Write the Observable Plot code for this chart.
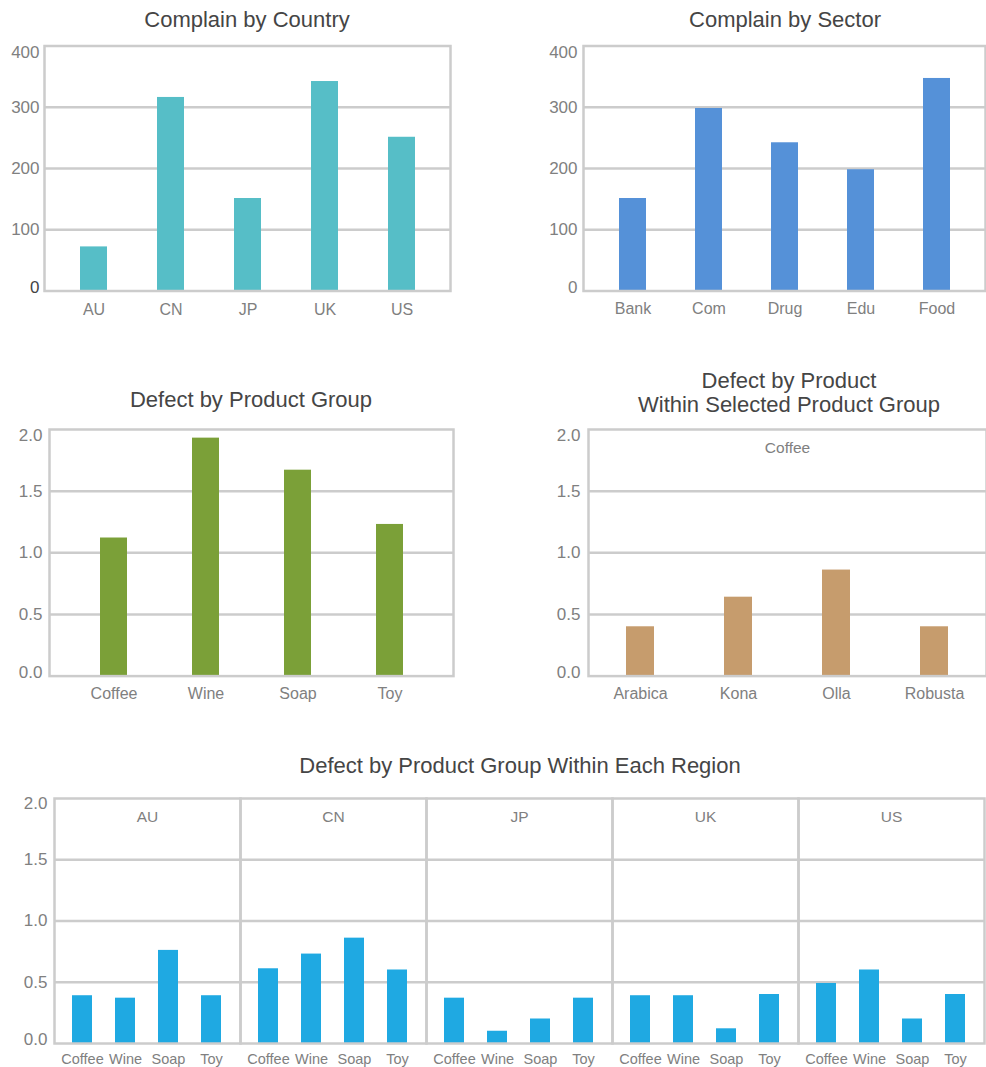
<!DOCTYPE html>
<html><head><meta charset="utf-8">
<script src="https://cdn.jsdelivr.net/npm/d3@7"></script>
<script src="https://cdn.jsdelivr.net/npm/@observablehq/plot@0.6"></script>
<style>
html,body{margin:0;padding:0;background:#fff}
body{width:986px;height:1067px;position:relative;overflow:hidden;font-family:"Liberation Sans",Arial,sans-serif}
.title{position:absolute;color:#454545;font-size:22px;text-align:center;white-space:nowrap;transform:translateX(-50%);line-height:24px}
.panel{position:absolute}
.panel svg{overflow:visible}
</style></head><body>
<script>
// ---- data ----
const countries = ["AU","CN","JP","UK","US"];
const countryComplaints = [72, 316, 151, 342, 251];
const sectors = ["Bank","Com","Drug","Edu","Food"];
const sectorComplaints = [151, 298, 242, 198, 347];
const complainTicks = [0, 100, 200, 300, 400];
const productGroups = ["Coffee","Wine","Soap","Toy"];
const groupDefects = [1.12, 1.93, 1.67, 1.23];
const selectedGroup = "Coffee";
const coffeeProducts = ["Arabica","Kona","Olla","Robusta"];
const coffeeDefects = [0.40, 0.64, 0.86, 0.40];
const defectTicks = [0, 0.5, 1.0, 1.5, 2.0];
const regions = ["AU","CN","JP","UK","US"];
const auDefects = [0.39, 0.37, 0.76, 0.39];
const cnDefects = [0.61, 0.73, 0.86, 0.60];
const jpDefects = [0.37, 0.10, 0.20, 0.37];
const ukDefects = [0.39, 0.39, 0.12, 0.40];
const usDefects = [0.49, 0.60, 0.20, 0.40];

const FONT = '"Liberation Sans", Arial, sans-serif';
const GRID = "#cccccc";
const TICK = "#808080";

function addTitle(lines, cx, cy) {
  const d = document.createElement("div");
  d.className = "title";
  d.innerHTML = lines.join("<br>");
  d.style.left = cx + "px";
  d.style.top = (cy - 12 * lines.length) + "px";
  document.body.appendChild(d);
}
function addPanel(svg, left, top) {
  const d = document.createElement("div");
  d.className = "panel";
  d.style.left = left + "px";
  d.style.top = top + "px";
  d.appendChild(svg);
  document.body.appendChild(d);
}

function yLabels(ticks, fmt, dx, topDy, botDy, botFill, extra = {}) {
  const mid = ticks.slice(1, -1), top = ticks.slice(-1), bot = ticks.slice(0, 1);
  const base = {y: d => d, text: fmt, frameAnchor: "left", textAnchor: "end", lineAnchor: "middle", dx, fontSize: 17, letterSpacing: "0.4px", ...extra};
  return [
    Plot.text(mid, {...base, fill: TICK}),
    Plot.text(top, {...base, fill: TICK, dy: topDy}),
    Plot.text(bot, {...base, fill: botFill, dy: botDy})
  ];
}

function barPanel(o) {
  const data = o.cats.map((c, i) => ({c, v: o.vals[i]}));
  return Plot.plot({
    width: o.width, height: o.height,
    marginLeft: o.ml, marginRight: o.mr, marginTop: o.mt, marginBottom: o.mb,
    style: {fontFamily: FONT, fontSize: "16px", background: "transparent"},
    x: {domain: o.cats, paddingInner: o.pi, paddingOuter: o.po, axis: null},
    y: {domain: [o.ticks[0], o.ticks[o.ticks.length - 1]], axis: null},
    marks: [
      Plot.ruleY(o.ticks.slice(1, -1), {stroke: GRID, strokeWidth: 2.5}),
      Plot.barY(data, {x: "c", y: "v", fill: o.color}),
      Plot.frame({stroke: GRID, strokeWidth: 2.5}),
      ...yLabels(o.ticks, o.fmt, o.dx, o.topDy, o.botDy, o.botFill || TICK),
      Plot.text(o.cats, {x: d => d, text: d => d, frameAnchor: "bottom", lineAnchor: "middle", dy: o.xdy, fill: TICK, fontSize: 16, letterSpacing: "0.5px"}),
      ...(o.extra || [])
    ]
  });
}

const fmtInt = d => String(d);
const fmt1 = d => d.toFixed(1);

// Panel 1
addTitle(["Complain by Country"], 247, 20);
addPanel(barPanel({
  cats: countries, vals: countryComplaints, ticks: complainTicks, fmt: fmtInt, color: "#56bec7",
  width: 470, height: 300, ml: 44, mr: 20, mt: 9.5, mb: 45.5, pi: 0.65, po: 0.44,
  dx: -5, topDy: 6.5, botDy: -3.5, botFill: "#444", xdy: 18.5
}), 0, 36);

// Panel 2
addTitle(["Complain by Sector"], 785, 20);
addPanel(barPanel({
  cats: sectors, vals: sectorComplaints, ticks: complainTicks, fmt: fmtInt, color: "#5591d8",
  width: 493, height: 300, ml: 90, mr: 1, mt: 9.5, mb: 45.5, pi: 0.65, po: 0.44,
  dx: -6, topDy: 6.5, botDy: -3.5, xdy: 18
}), 493, 36);

// Panel 3
addTitle(["Defect by Product Group"], 251, 400);
addPanel(barPanel({
  cats: productGroups, vals: groupDefects, ticks: defectTicks, fmt: fmt1, color: "#7ba038",
  width: 470, height: 300, ml: 49, mr: 17, mt: 9, mb: 44.4, pi: 0.707, po: 0.54,
  dx: -7, topDy: 6, botDy: -4, xdy: 18
}), 0, 420);

// Panel 4
addTitle(["Defect by Product", "Within Selected Product Group"], 789, 392.5);
addPanel(barPanel({
  cats: coffeeProducts, vals: coffeeDefects, ticks: defectTicks, fmt: fmt1, color: "#c69c6d",
  width: 493, height: 300, ml: 95, mr: 0, mt: 9, mb: 44.4, pi: 0.714, po: 0.387,
  dx: -8, topDy: 6, botDy: -4, xdy: 18,
  extra: [Plot.text([selectedGroup], {text: d => d, frameAnchor: "top", lineAnchor: "middle", dy: 19, fill: TICK, fontSize: 15.5})]
}), 493, 420);

// Panel 5 (faceted)
addTitle(["Defect by Product Group Within Each Region"], 520, 766);
const regionValues = [auDefects, cnDefects, jpDefects, ukDefects, usDefects];
const regionTable = regions.flatMap((r, i) => productGroups.map((p, j) => ({region: r, product: p, value: regionValues[i][j]})));
addPanel(Plot.plot({
  width: 986, height: 277, marginLeft: 52, marginRight: 0, marginTop: 8, marginBottom: 24,
  style: {fontFamily: FONT, fontSize: "15px", background: "transparent"},
  fx: {domain: regions, padding: 0, axis: null},
  x: {domain: productGroups, paddingInner: 0.53, paddingOuter: 0.4, axis: null},
  y: {domain: [0, 2], axis: null},
  marks: [
    Plot.ruleY(defectTicks.slice(1, -1), {stroke: GRID, strokeWidth: 2.5}),
    Plot.barY(regionTable, {fx: "region", x: "product", y: "value", fill: "#1fa9e2"}),
    Plot.frame({stroke: GRID, strokeWidth: 2.5}),
    Plot.text(regions, {fx: d => d, text: d => d, frameAnchor: "top", lineAnchor: "middle", dy: 19, fill: TICK, fontSize: 15.5, letterSpacing: "1.8px"}),
    Plot.text(productGroups, {x: d => d, text: d => d, frameAnchor: "bottom", lineAnchor: "middle", dy: 16, fill: TICK, fontSize: 14.5}),
    ...yLabels(defectTicks, fmt1, -7, 5, -4, TICK, {facetAnchor: "left"})
  ]
}), 0, 790);
</script>
</body></html>
